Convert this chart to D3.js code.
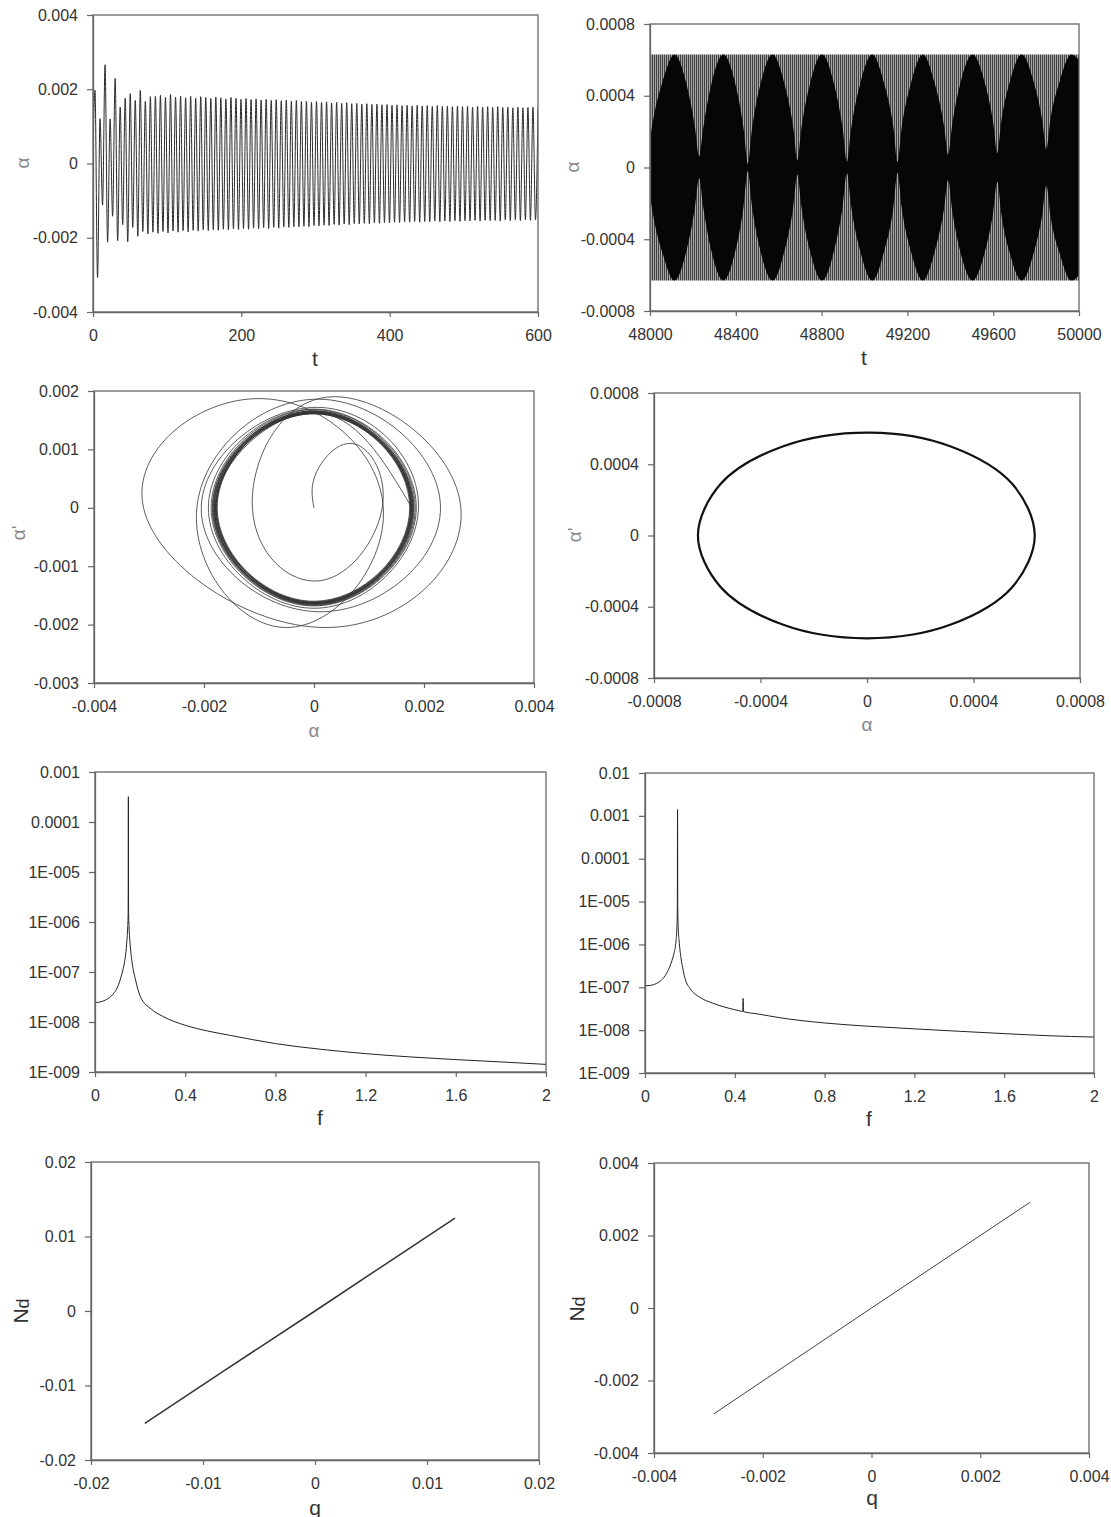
<!DOCTYPE html>
<html>
<head>
<meta charset="utf-8">
<script src="https://cdn.jsdelivr.net/npm/d3@7"></script>
<style>
  body { margin: 0; background: #fff; }
  text { font-family: "Liberation Sans", Arial, sans-serif; }
  .axis .domain { stroke: #666; stroke-width: 1.3; }
  .axis line { stroke: #666; stroke-width: 1.2; }
  .axis text { font-size: 16px; fill: #333; font-family: "Liberation Sans", Arial, sans-serif; }
</style>
</head>
<body>
<svg id="fig" width="1111" height="1517"></svg>
<script>
// ---------- data ----------

// (a) transient response: alpha at t=0, then successive maxima / minima
const alphaStart = 0.0004;
const tFirstExtremum = 2.7;
const tLastExtremum = 600;
const alphaPeaks = [
  0.00197, 0.00121, 0.00266, 0.00120, 0.00229, 0.00152, 0.00176, 0.00188, 0.00170, 0.00197,
  0.00167, 0.00180, 0.00181, 0.00184, 0.00178, 0.00186, 0.00179, 0.00182, 0.00177, 0.00181,
  0.00176, 0.00180, 0.00178, 0.00175, 0.00179, 0.00177, 0.00174, 0.00178, 0.00176, 0.00173,
  0.00175, 0.00172, 0.00174, 0.00171, 0.00173, 0.00170, 0.00172, 0.00169, 0.00171, 0.00168,
  0.00170, 0.00167, 0.00168, 0.00165, 0.00167, 0.00164, 0.00166, 0.00163, 0.00165, 0.00162,
  0.00164, 0.00161, 0.00162, 0.00160, 0.00161, 0.00159, 0.00160, 0.00158, 0.00159, 0.00157,
  0.00158, 0.00156, 0.00157, 0.00155, 0.00157, 0.00155, 0.00156, 0.00154, 0.00156, 0.00154,
  0.00155, 0.00153, 0.00155, 0.00153, 0.00154, 0.00152, 0.00154, 0.00152, 0.00153, 0.00151,
  0.00153, 0.00151, 0.00152, 0.00150, 0.00152, 0.00150, 0.00151, 0.00152, 0.00150
];
const alphaTroughs = [
  -0.00307, -0.00112, -0.00212, -0.00142, -0.00208, -0.00165, -0.00211, -0.00172, -0.00196, -0.00183,
  -0.00190, -0.00185, -0.00188, -0.00183, -0.00187, -0.00182, -0.00185, -0.00181, -0.00184, -0.00180,
  -0.00182, -0.00179, -0.00181, -0.00178, -0.00180, -0.00177, -0.00179, -0.00176, -0.00178, -0.00175,
  -0.00177, -0.00174, -0.00176, -0.00173, -0.00175, -0.00172, -0.00174, -0.00171, -0.00172, -0.00170,
  -0.00171, -0.00169, -0.00170, -0.00167, -0.00168, -0.00166, -0.00167, -0.00164, -0.00166, -0.00163,
  -0.00165, -0.00162, -0.00163, -0.00161, -0.00162, -0.00160, -0.00161, -0.00159, -0.00160, -0.00158,
  -0.00159, -0.00157, -0.00158, -0.00156, -0.00158, -0.00156, -0.00157, -0.00155, -0.00157, -0.00155,
  -0.00156, -0.00154, -0.00156, -0.00154, -0.00155, -0.00153, -0.00155, -0.00153, -0.00154, -0.00153,
  -0.00155, -0.00152, -0.00154, -0.00152, -0.00154, -0.00152, -0.00153, -0.00152
];

// (b) long-time response: outer amplitude and the beat envelope (dark lenses)
const beatAmplitude = 0.00063;
const beatT = [
  48000, 48020, 48059, 48114, 48169, 48210, 48229,
  48248, 48287, 48342, 48397, 48437, 48456,
  48475, 48516, 48571, 48626, 48668, 48687,
  48706, 48747, 48802, 48857, 48899, 48918,
  48937, 48981, 49036, 49091, 49135, 49154,
  49173, 49217, 49272, 49327, 49371, 49390,
  49409, 49449, 49504, 49559, 49600, 49619,
  49638, 49678, 49733, 49788, 49829, 49848,
  49867, 49910, 49965, 50000
];
const beatEnv = [
  0.00016, 0.00030, 0.00048, 0.00063, 0.00047, 0.00022, 0.00006,
  0.00022, 0.00047, 0.00063, 0.00047, 0.00021, 0.00002,
  0.00021, 0.00047, 0.00063, 0.00047, 0.00022, 0.00004,
  0.00022, 0.00047, 0.00063, 0.00047, 0.00021, 0.00003,
  0.00021, 0.00047, 0.00063, 0.00047, 0.00022, 0.00003,
  0.00022, 0.00047, 0.00063, 0.00047, 0.00023, 0.00007,
  0.00024, 0.00048, 0.00063, 0.00048, 0.00025, 0.00008,
  0.00026, 0.00048, 0.00063, 0.00048, 0.00026, 0.00010,
  0.00027, 0.00048, 0.00063, 0.00060
];

// (c) phase portrait, transient: [alpha, alpha'] at top / right / bottom / left of each turn
const phasePath = [
  [0, 0], [0.00005, 0.00062], [0.00075, 0.00109],
  [0.00124, 0], [0.0001, -0.00125], [-0.00112, 0], [0.0003, 0.0019],
  [0.00267, 0], [0.0002, -0.00205], [-0.0031, 0], [-0.001, 0.00187],
  [0.00126, 0], [-0.0005, -0.00205], [-0.00213, 0], [0.0001, 0.00186],
  [0.0023, 0], [0.0001, -0.00178], [-0.00205, 0], [0.00005, 0.00172],
  [0.0019, 0], [0.0, -0.00172], [-0.00192, 0], [0.0, 0.00169],
  [0.00186, 0], [0.0, -0.00168], [-0.00187, 0], [0.0, 0.00168],
  [0.00184, 0], [0.0, -0.00167], [-0.00185, 0], [0.0, 0.00166],
  [0.00181, 0], [0.0, -0.00165], [-0.00183, 0], [0.0, 0.00164],
  [0.00178, 0], [0.0, -0.00164], [-0.00181, 0], [0.0, 0.00163],
  [0.00176, 0], [0.0, -0.00162], [-0.00178, 0], [0.0, 0.00161],
  [0.00174, 0], [0.0, -0.00160], [-0.00176, 0], [0.0, 0.00162],
  [0.00176, 0], [0.0, -0.00162], [-0.00178, 0], [0.0, 0.00164],
  [0.00179, 0], [0.0, -0.00164], [-0.00181, 0], [0.0, 0.00166],
  [0.00182, 0], [0.0, -0.00166], [-0.00184, 0], [0.0, 0.00165],
  [0.00180, 0], [0.0, -0.00165], [-0.00182, 0], [0.0, 0.00163],
  [0.00177, 0], [0.0, -0.00163], [-0.00179, 0], [0.0, 0.00161],
  [0.00175, 0], [0.0, -0.00161], [-0.00177, 0], [0.0, 0.00162],
  [0.00177, 0], [0.0, -0.00162], [-0.00179, 0], [0.0, 0.00164],
  [0.00179, 0], [0.0, -0.00164], [-0.00180, 0], [0.0, 0.00163],
  [0.00178, 0]
];

// (d) phase portrait, steady state
const limitCycle = [
  [0.00063, 0], [0.000546, -0.000289], [0.000315, -0.0005], [0, -0.000577],
  [-0.000317, -0.0005], [-0.00055, -0.000289], [-0.000635, 0], [-0.00055, 0.000289],
  [-0.000317, 0.0005], [0.00001, 0.000578], [0.000315, 0.0005], [0.000546, 0.000289]
];

// (e), (f) amplitude spectra
const specFreqLeft = [0, 0.02, 0.05, 0.08, 0.1, 0.12, 0.13, 0.14, 0.145, 0.147, 0.148, 0.149, 0.151, 0.156, 0.165,
  0.18, 0.2, 0.25, 0.3, 0.4, 0.5, 0.6, 0.8, 1.0, 1.2, 1.4, 1.6, 1.8, 2.0];
const specAmpLeft = [2.45e-8, 2.5e-8, 2.8e-8, 3.6e-8, 5.0e-8, 9.5e-8, 1.5e-7, 3.5e-7, 8e-7, 1.5e-6, 3.2e-4, 1.5e-6, 8e-7, 3.5e-7, 1.5e-7,
  6.9e-8, 3.3e-8, 1.8e-8, 1.3e-8, 8.6e-9, 6.6e-9, 5.4e-9, 3.7e-9, 2.85e-9, 2.33e-9, 2.0e-9, 1.77e-9, 1.59e-9, 1.42e-9];
const specFreqRight = [0, 0.02, 0.05, 0.08, 0.1, 0.12, 0.13, 0.138, 0.142, 0.144, 0.145, 0.146, 0.148, 0.152, 0.16,
  0.17, 0.18, 0.2, 0.25, 0.3, 0.4, 0.435, 0.437, 0.439, 0.5, 0.6, 0.8, 1.0, 1.2, 1.4, 1.6, 1.8, 2.0];
const specAmpRight = [1.08e-7, 1.1e-7, 1.22e-7, 1.6e-7, 2.3e-7, 4.2e-7, 6.5e-7, 1.2e-6, 2.5e-6, 7e-6, 1.4e-3, 7e-6, 2.5e-6, 1.2e-6, 5e-7,
  2.5e-7, 1.5e-7, 9.5e-8, 5.6e-8, 4.3e-8, 3.0e-8, 2.75e-8, 5.5e-8, 2.7e-8, 2.4e-8, 1.95e-8, 1.47e-8, 1.23e-8, 1.07e-8, 9.4e-9, 8.3e-9, 7.4e-9, 6.9e-9];

// (g), (h) N_d against q
const ndLeft = [[-0.0152, -0.0151], [-0.008, -0.0079], [0, 0], [0.006, 0.006], [0.0125, 0.01247]];
const ndRight = [[-0.0029, -0.00292], [0, 0], [0.00292, 0.00292]];

// tick values and labels
const ticksT1 = [0, 200, 400, 600];
const ticksA1 = [-0.004, -0.002, 0, 0.002, 0.004];
const ticksT2 = [48000, 48400, 48800, 49200, 49600, 50000];
const ticksA2 = [-0.0008, -0.0004, 0, 0.0004, 0.0008];
const ticksPhaseX = [-0.004, -0.002, 0, 0.002, 0.004];
const ticksPhaseY = [-0.003, -0.002, -0.001, 0, 0.001, 0.002];
const ticksF = [0, 0.4, 0.8, 1.2, 1.6, 2];
const ticksSpecLeft = [1e-9, 1e-8, 1e-7, 1e-6, 1e-5, 1e-4, 1e-3];
const labelsSpecLeft = ["1E-009", "1E-008", "1E-007", "1E-006", "1E-005", "0.0001", "0.001"];
const ticksSpecRight = [1e-9, 1e-8, 1e-7, 1e-6, 1e-5, 1e-4, 1e-3, 1e-2];
const labelsSpecRight = ["1E-009", "1E-008", "1E-007", "1E-006", "1E-005", "0.0001", "0.001", "0.01"];
const ticksQ1 = [-0.02, -0.01, 0, 0.01, 0.02];
const ticksQ2 = [-0.004, -0.002, 0, 0.002, 0.004];

// ---------- drawing ----------
const svg = d3.select("#fig");
const defs = svg.append("defs");
svg.append("rect").attr("width", 1111).attr("height", 1517).attr("fill", "#fff");

const plain = d => String(d);

function makePanel(id, box, x, y, xTicks, yTicks, xFmt, yFmt) {
  x.range([0, box.w]);
  y.range([box.h, 0]);
  const g = svg.append("g").attr("transform", `translate(${box.x},${box.y})`);
  defs.append("clipPath").attr("id", "clip-" + id)
    .append("rect").attr("width", box.w).attr("height", box.h);
  const plot = g.append("g").attr("clip-path", `url(#clip-${id})`);

  g.append("g").attr("class", "axis")
    .attr("transform", `translate(0,${box.h})`)
    .call(d3.axisBottom(x).tickValues(xTicks).tickFormat(xFmt || plain)
      .tickSizeInner(5).tickSizeOuter(0).tickPadding(13));
  g.append("g").attr("class", "axis")
    .call(d3.axisLeft(y).tickValues(yTicks).tickFormat(yFmt || plain)
      .tickSizeInner(6).tickSizeOuter(0).tickPadding(9));

  g.append("rect").attr("width", box.w).attr("height", box.h)
    .attr("fill", "none").attr("stroke", "#666").attr("stroke-width", 1.3);
  return { g, plot, x, y };
}

function label(x, y, txt, opt) {
  opt = opt || {};
  const t = svg.append("text")
    .attr("x", x).attr("y", y)
    .attr("text-anchor", "middle")
    .attr("dominant-baseline", "central")
    .attr("font-size", opt.size || 21)
    .attr("fill", opt.color || "#333")
    .text(txt);
  if (opt.rotate) t.attr("transform", `rotate(-90,${x},${y})`);
  return t;
}

// (a)
{
  const p = makePanel("a", { x: 93, y: 15, w: 445, h: 297 },
    d3.scaleLinear().domain([0, 600]), d3.scaleLinear().domain([-0.004, 0.004]), ticksT1, ticksA1);
  const n = alphaPeaks.length + alphaTroughs.length;
  const idxToT = d3.scaleLinear().domain([0, n - 1]).range([tFirstExtremum, tLastExtremum]);
  const series = [[0, alphaStart]];
  for (let i = 0; i < alphaPeaks.length; i++) {
    series.push([idxToT(2 * i), alphaPeaks[i]]);
    if (i < alphaTroughs.length) series.push([idxToT(2 * i + 1), alphaTroughs[i]]);
  }
  p.plot.append("path").datum(series)
    .attr("fill", "none").attr("stroke", "#2a2a2a").attr("stroke-width", 1)
    .attr("d", d3.line().x(d => p.x(d[0])).y(d => p.y(d[1])).curve(d3.curveMonotoneX));
  label(22, 163, "α", { size: 19, color: "#888", rotate: true });
  label(315, 358, "t");
}

// (b)
{
  const p = makePanel("b", { x: 650, y: 24, w: 429, h: 287 },
    d3.scaleLinear().domain([48000, 50000]), d3.scaleLinear().domain([-0.0008, 0.0008]), ticksT2, ticksA2);
  const pat = defs.append("pattern").attr("id", "stripes")
    .attr("patternUnits", "userSpaceOnUse").attr("width", 2).attr("height", 4);
  pat.append("rect").attr("width", 2).attr("height", 4).attr("fill", "#a6a6a6");
  pat.append("rect").attr("width", 1).attr("height", 4).attr("fill", "#404040");
  p.plot.append("rect")
    .attr("x", p.x(48000)).attr("width", p.x(50000) - p.x(48000))
    .attr("y", p.y(beatAmplitude)).attr("height", p.y(-beatAmplitude) - p.y(beatAmplitude))
    .attr("fill", "url(#stripes)");
  const env = beatT.map((t, i) => [t, beatEnv[i]]);
  p.plot.append("path").datum(env)
    .attr("fill", "#060606")
    .attr("d", d3.area().x(d => p.x(d[0])).y0(d => p.y(-d[1])).y1(d => p.y(d[1])).curve(d3.curveMonotoneX));
  label(572, 167, "α", { size: 19, color: "#888", rotate: true });
  label(864, 357, "t");
}

// (c)
{
  const p = makePanel("c", { x: 94, y: 391, w: 440, h: 292 },
    d3.scaleLinear().domain([-0.004, 0.004]), d3.scaleLinear().domain([-0.003, 0.002]), ticksPhaseX, ticksPhaseY);
  p.plot.append("path").datum(phasePath)
    .attr("fill", "none").attr("stroke", "#333").attr("stroke-width", 0.8)
    .attr("d", d3.line().x(d => p.x(d[0])).y(d => p.y(d[1])).curve(d3.curveNatural));
  label(18, 533, "α'", { size: 19, color: "#888", rotate: true });
  label(314, 730, "α", { size: 19, color: "#888" });
}

// (d)
{
  const p = makePanel("d", { x: 654, y: 393, w: 426, h: 285 },
    d3.scaleLinear().domain([-0.0008, 0.0008]), d3.scaleLinear().domain([-0.0008, 0.0008]), ticksA2, ticksA2);
  p.plot.append("path").datum(limitCycle)
    .attr("fill", "none").attr("stroke", "#111").attr("stroke-width", 2.2)
    .attr("d", d3.line().x(d => p.x(d[0])).y(d => p.y(d[1])).curve(d3.curveCatmullRomClosed));
  label(574, 535, "α'", { size: 19, color: "#888", rotate: true });
  label(867, 724, "α", { size: 19, color: "#888" });
}

// (e)
{
  const p = makePanel("e", { x: 95, y: 772, w: 451, h: 300 },
    d3.scaleLinear().domain([0, 2]), d3.scaleLog().domain([1e-9, 1e-3]), ticksF, ticksSpecLeft,
    plain, d => labelsSpecLeft[ticksSpecLeft.indexOf(d)]);
  const pts = specFreqLeft.map((f, i) => [f, specAmpLeft[i]]);
  p.plot.append("path").datum(pts)
    .attr("fill", "none").attr("stroke", "#222").attr("stroke-width", 1)
    .attr("d", d3.line().x(d => p.x(d[0])).y(d => p.y(d[1])).curve(d3.curveMonotoneX));
  label(320, 1117, "f");
}

// (f)
{
  const p = makePanel("f", { x: 645, y: 773, w: 449, h: 300 },
    d3.scaleLinear().domain([0, 2]), d3.scaleLog().domain([1e-9, 1e-2]), ticksF, ticksSpecRight,
    plain, d => labelsSpecRight[ticksSpecRight.indexOf(d)]);
  const pts = specFreqRight.map((f, i) => [f, specAmpRight[i]]);
  p.plot.append("path").datum(pts)
    .attr("fill", "none").attr("stroke", "#222").attr("stroke-width", 1)
    .attr("d", d3.line().x(d => p.x(d[0])).y(d => p.y(d[1])).curve(d3.curveMonotoneX));
  label(869, 1118, "f");
}

// (g)
{
  const p = makePanel("g", { x: 91, y: 1162, w: 448, h: 298 },
    d3.scaleLinear().domain([-0.02, 0.02]), d3.scaleLinear().domain([-0.02, 0.02]), ticksQ1, ticksQ1);
  p.plot.append("path").datum(ndLeft)
    .attr("fill", "none").attr("stroke", "#333").attr("stroke-width", 1.5)
    .attr("d", d3.line().x(d => p.x(d[0])).y(d => p.y(d[1])));
  const t = label(20, 1311, "N", { rotate: true });
  t.append("tspan").attr("font-size", 18).attr("dy", 3).text("d");
  label(315, 1507, "q");
}

// (h)
{
  const p = makePanel("h", { x: 654, y: 1163, w: 435, h: 290 },
    d3.scaleLinear().domain([-0.004, 0.004]), d3.scaleLinear().domain([-0.004, 0.004]), ticksQ2, ticksQ2);
  p.plot.append("path").datum(ndRight)
    .attr("fill", "none").attr("stroke", "#444").attr("stroke-width", 1)
    .attr("d", d3.line().x(d => p.x(d[0])).y(d => p.y(d[1])));
  const t = label(576, 1309, "N", { rotate: true });
  t.append("tspan").attr("font-size", 18).attr("dy", 3).text("d");
  label(872, 1497, "q");
}
</script>
</body>
</html>
